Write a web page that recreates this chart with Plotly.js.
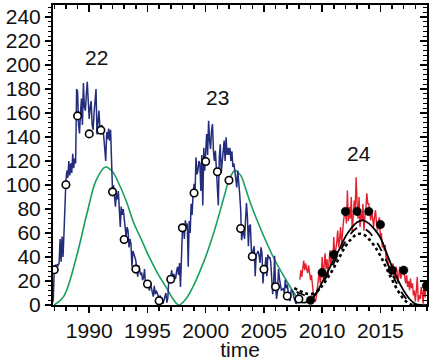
<!DOCTYPE html>
<html>
<head>
<meta charset="utf-8">
<script src="https://cdn.plot.ly/plotly-3.0.1.min.js"></script>
<style>html,body{margin:0;padding:0;background:#fff;}#chart{width:436px;height:361px;}</style>
</head>
<body>
<div id="chart"></div>
<script>
// Monthly sunspot number (blue), starting Nov 1986
var blueStart = 1986 + 10/12;
var blueValues = [
  2, 4,
  32, 33, 31, 34, 33, 35, 55, 36, 57, 40, 60, 88,
  104, 112, 106, 120, 108, 118, 110, 126, 114, 122, 118, 180,
  178, 150, 143, 160, 172, 150, 185, 165, 162, 175, 186, 170,
  155, 165, 170, 150, 146, 160, 175, 180, 142, 150, 162, 148,
  145, 150, 147, 140, 128, 120, 144, 138, 147, 137, 146, 112,
  95, 100, 88, 82, 93, 88, 95, 80, 65, 82, 75, 80,
  70, 62, 57, 65, 62, 48, 55, 51, 32, 45, 43, 40,
  37, 30, 23.5, 33, 29, 25, 27, 20.7, 23, 30, 15, 20,
  20, 16, 12, 18, 14, 10, 7, 16, 9, 12, 10, 8,
  2.7, 8, 5, 6, 1, 4, 7, 10, 2, 6, 21, 22,
  23.5, 29, 20, 26, 24, 22, 28, 31.8, 25, 35, 15, 45.6,
  62, 67.8, 55, 70.5, 65, 68, 31.8, 70, 60, 84.4, 75, 92.7,
  101, 92, 123, 109, 112, 120, 118, 95, 125, 83, 131, 112,
  134, 142.5, 125, 153.5, 137, 130, 145, 150.8, 128, 120, 128.6, 110,
  95, 83, 123, 134, 110, 120, 125, 137, 120, 139.7, 125, 131,
  125, 131, 120, 128, 115, 118, 112, 104, 98, 112, 104, 92.7,
  80, 54, 61, 60, 55, 77, 85, 73, 49, 66, 67, 47,
  37, 46, 49, 24, 42, 43, 45, 41, 35, 48, 43, 18,
  31, 30, 40, 24, 42, 39, 40, 36, 22, 9, 18, 41,
  15, 5, 11, 30, 22, 14, 12, 13, 14, 10, 21, 14,
  17, 11, 4.5, 3.4, 12, 12, 10, 6, 2.4, 1, 2, 10,
  3
];

// Monthly values of cycle 24 (red), starting Feb 2008
var redStart = 2008 + 1/12;
var redValues = [
  21, 29, 23.5, 30, 37, 29, 34.6, 30, 26.5, 33, 28,
  20.7, 25, 12.4, 8, 5, 2.7, 7, 12, 20.7, 29, 18, 25,
  40, 22, 35, 43, 30, 38, 25, 40, 45.6, 33, 42, 38,
  56.7, 40, 45.6, 52, 62, 48, 55, 65, 50, 62, 70, 76,
  76, 68, 95.4, 70, 81.6, 72, 90, 60, 76, 87, 80, 106.5,
  84.4, 72, 90, 65, 76, 70, 84.4, 62, 73, 80, 93, 84.4,
  84.4, 78, 70.5, 79, 72, 65, 74, 79, 68, 62, 70, 73,
  56.7, 60, 48, 52, 45, 50, 37, 42, 35, 29, 32, 23.5,
  30, 34.6, 28, 20, 32, 29, 18, 26, 32, 22, 28, 30,
  29, 22, 18, 25, 15, 20, 12.4, 22, 14, 18, 8, 12,
  3, 12, 23.5, 2.7, 8, 5, 15, 10, 1, 20.8, 6, 18
];

// Yearly means (open circles)
var yearsOpen = [1987,1988,1989,1990,1991,1992,1993,1994,1995,1996,1997,1998,1999,2000,2001,2002,2003,2004,2005,2006,2007,2008];
var valuesOpen = [29.4,100.2,157.6,142.6,145.7,94.3,54.6,29.9,17.5,3.6,21.5,64.3,93.3,119.6,111.0,104.0,63.7,40.4,29.8,15.2,7.5,5];

// Yearly means of cycle 24 (filled circles)
var yearsFilled = [2009,2010,2011,2012,2013,2014,2015,2016,2017,2018.95];
var valuesFilled = [4,27,42,78,78,78,67,29,29,16];

// Smooth curve for cycles 22 and 23 (green)
var greenYears = [1987.0,1987.8,1988.9,1989.8,1990.6,1991.4,1992.0,1992.6,1993.2,1993.8,1994.5,1995.2,1995.9,1996.65,1997.2,1997.7,
                  1998.3,1998.9,1999.5,2000.1,2000.65,2001.2,2001.6,2002.0,2002.5,2003.0,2003.4,2003.8,2004.65,2005.8,2006.95,2007.65,2008.2];
var greenValues = [0,7,40,76,104,115,111,100,86,69,54,39,26,14,5,0,
                   5,15,28,43,59,77,91,104,112,108,98,86,65,40,20,9,2];

// Cycle 24 curves (black)
var solidYears = [2007.9,2008.5,2009.0,2009.5,2010.0,2010.5,2011.0,2011.5,2012.0,2012.5,2013.0,2013.5,2014.0,2014.5,2015.0,2015.5,2016.0,2016.5,2017.0,2017.5,2018.0,2018.5,2019.0];
var solidValues = [3,2,4,10,19,28,38,47,57,64,69,70.5,68,63,56,44,32,21,12,5,1,0,0];
var dashYears = [2007.8,2008.5,2009.0,2009.5,2010.0,2010.5,2011.0,2011.5,2012.0,2012.5,2013.0,2013.5,2014.0,2014.5,2015.0,2015.5,2016.0,2016.5,2017.0,2017.5,2018.0,2018.5];
var dashValues = [11,8,7,10,17,26,35,44,53,60,64,64,61,55,47,37,26,16,8,2,0,0];
var dotYears = [2007.6,2008.5,2009.0,2009.5,2010.0,2010.5,2011.0,2011.5,2012.0,2012.5,2013.0,2013.5,2014.0,2014.5,2015.0,2015.5,2016.0,2016.5,2017.0,2017.5,2018.0];
var dotValues = [14,10,9,11,16,23,31,40,49,55,59,59,55,49,41,31,21,12,5,1,0];

// Cycle labels
var cycleLabels = ['22','23','24'];
var cycleLabelX = [1990.6,2001.05,2013.15];
var cycleLabelY = [206,173,126];

function monthly(start, vals){ var xs=[]; for(var i=0;i<vals.length;i++){ xs.push(start + i/12); } return xs; }

var FONT = 'Arial, "Liberation Sans", sans-serif';
var FS = 21;

var traces = [
  {x: greenYears, y: greenValues, mode:'lines', line:{color:'#17a05d', width:1.6, shape:'spline', smoothing:1}, hoverinfo:'skip'},
  {x: monthly(blueStart, blueValues), y: blueValues, mode:'lines', line:{color:'#232d7c', width:1.5}, hoverinfo:'skip'},
  {x: monthly(redStart, redValues), y: redValues, mode:'lines', line:{color:'#e3202e', width:1.4}, hoverinfo:'skip'},
  {x: dotYears, y: dotValues, mode:'lines', line:{color:'#000', width:2.6, dash:'dot', shape:'spline'}, hoverinfo:'skip'},
  {x: dashYears, y: dashValues, mode:'lines', line:{color:'#000', width:1.8, dash:'dash', shape:'spline'}, hoverinfo:'skip'},
  {x: solidYears, y: solidValues, mode:'lines', line:{color:'#000', width:1.8, shape:'spline'}, hoverinfo:'skip'},
  {x: yearsOpen, y: valuesOpen, mode:'markers', marker:{symbol:'circle', size:7.5, color:'#fff', line:{color:'#000', width:1.6}}, hoverinfo:'skip'},
  {x: yearsFilled, y: valuesFilled, mode:'markers', marker:{symbol:'circle', size:8.5, color:'#000', line:{color:'#000', width:0.5}}, hoverinfo:'skip'},
  {x: [2000], y: [-50], xaxis:'x2', yaxis:'y2', mode:'markers', marker:{opacity:0}, hoverinfo:'skip'}
];

var xr = [1986.89, 2019.0];
var yr = [0, 250];

var annotations = cycleLabels.map(function(t,i){
  return {x: cycleLabelX[i], y: cycleLabelY[i], xref:'x', yref:'y', text:t, showarrow:false,
          font:{family:FONT, size:FS, color:'#111'}, xanchor:'center', yanchor:'middle'};
});

var layout = {
  width: 436, height: 361,
  margin: {l:53, r:9, t:5, b:56, pad:0},
  paper_bgcolor:'#fff', plot_bgcolor:'#fff',
  showlegend:false,
  font:{family:FONT, size:FS, color:'#111'},
  xaxis: {
    range: xr, showgrid:false, zeroline:false,
    showline:true, linecolor:'#000', linewidth:2, mirror:true,
    tick0:1990, dtick:5, ticks:'outside', ticklen:6, tickwidth:1.5, tickcolor:'#000',
    minor:{dtick:1, tick0:1990, ticks:'outside', ticklen:4, tickwidth:1.5, tickcolor:'#000', showgrid:false},
    tickfont:{family:FONT, size:FS, color:'#111'},
    title:{text:'time', font:{family:FONT, size:FS, color:'#111'}, standoff:4}
  },
  yaxis: {
    range: yr, showgrid:false, zeroline:false,
    showline:true, linecolor:'#000', linewidth:2, mirror:true,
    tick0:0, dtick:20, ticks:'outside', ticklen:6, tickwidth:1.5, tickcolor:'#000',
    minor:{dtick:4, tick0:0, ticks:'outside', ticklen:3, tickwidth:1.2, tickcolor:'#000', showgrid:false},
    tickfont:{family:FONT, size:FS, color:'#111'}
  },
  xaxis2: {
    overlaying:'x', side:'top', range: xr, showgrid:false, zeroline:false, showticklabels:false,
    tick0:1990, dtick:5, ticks:'inside', ticklen:7, tickwidth:1.5, tickcolor:'#000',
    minor:{dtick:1, tick0:1990, ticks:'inside', ticklen:4, tickwidth:1.5, tickcolor:'#000', showgrid:false}
  },
  yaxis2: {
    overlaying:'y', side:'right', range: yr, showgrid:false, zeroline:false, showticklabels:false,
    tick0:0, dtick:20, ticks:'inside', ticklen:7, tickwidth:1.5, tickcolor:'#000',
    minor:{dtick:4, tick0:0, ticks:'inside', ticklen:4, tickwidth:1.2, tickcolor:'#000', showgrid:false}
  },
  annotations: annotations
};

Plotly.newPlot('chart', traces, layout, {staticPlot:true, displayModeBar:false});
</script>
</body>
</html>
